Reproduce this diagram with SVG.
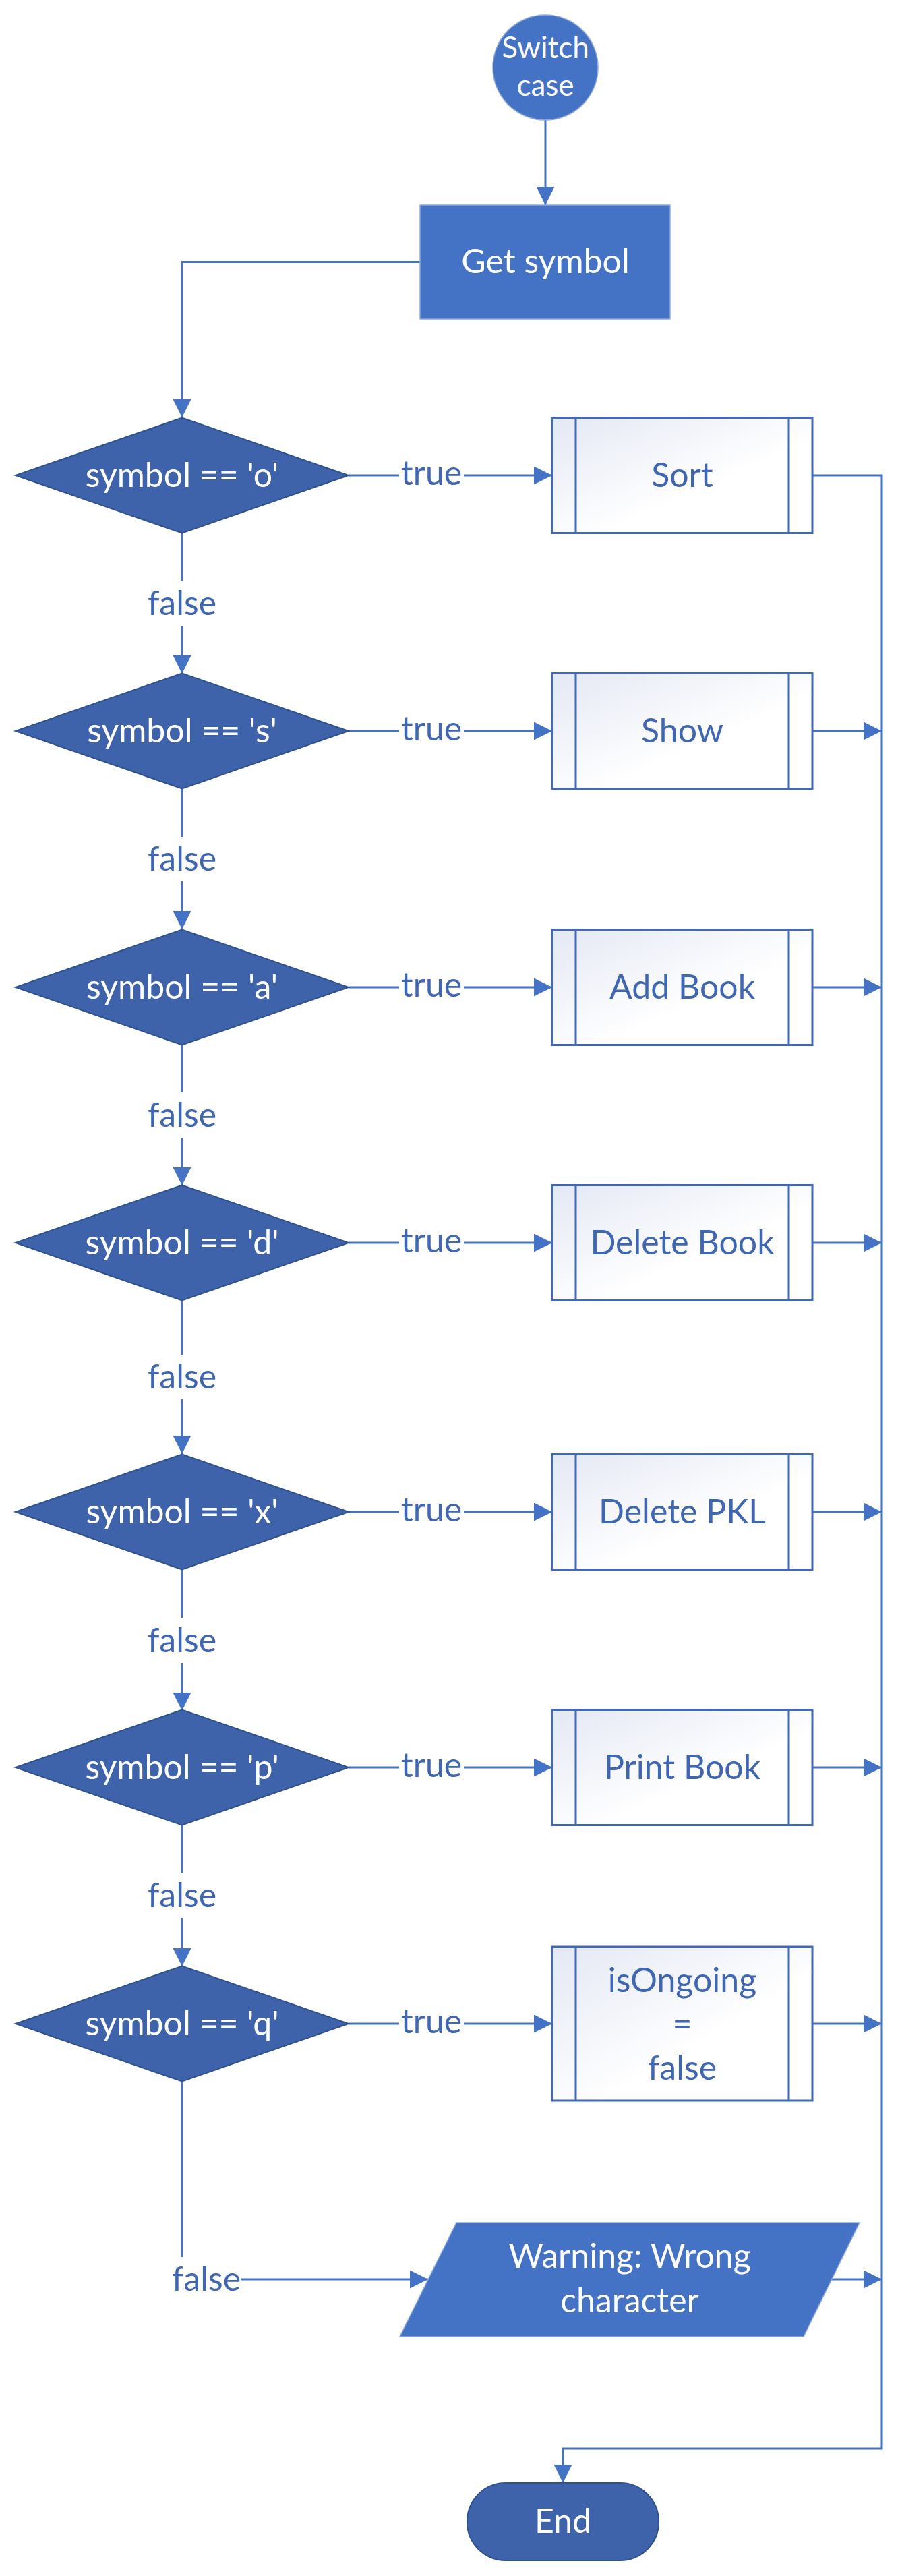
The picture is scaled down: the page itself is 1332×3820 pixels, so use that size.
<svg xmlns="http://www.w3.org/2000/svg" width="1332" height="3820" viewBox="0 0 1332 3820">
<style>
.bg{fill:#FFFFFF}
.con{fill:none;stroke:#4472C4;stroke-width:3}
.arr{fill:none;stroke:#4472C4;stroke-width:3;marker-end:url(#ah)}
.dia{fill:#3E63AB;stroke:#2F528F;stroke-width:2}
.proc{fill:url(#pg);stroke:#4169B7;stroke-width:3}
.pline{fill:none;stroke:#4169B7;stroke-width:3}
.solid{fill:#4472C4;stroke:#8EA9DB;stroke-width:1.5}
.dark{fill:#3E63AB;stroke:#2F528F;stroke-width:2}
text{font-family:Lato,"Liberation Sans",sans-serif;font-size:50px;text-anchor:middle}
.w{fill:#FFFFFF}
.b{fill:#3F66B3}
.sm{font-size:44px}
</style>
<defs>
<linearGradient id="pg" x1="0" y1="0" x2="1" y2="1">
<stop offset="0" stop-color="#E4E8F4"/>
<stop offset="0.6" stop-color="#FFFFFF"/>
<stop offset="1" stop-color="#FFFFFF"/>
</linearGradient>
<marker id="ah" markerUnits="userSpaceOnUse" markerWidth="27" markerHeight="27" refX="27" refY="13.5" orient="auto">
<path d="M0,0 L27,13.5 L0,27 Z" fill="#4472C4"/>
</marker>
</defs>
<rect class="bg" x="0" y="0" width="1332" height="3820"/>

<g id="connectors">
<path class="arr" d="M809,178 L809,304"/>
<path class="arr" d="M623,388.5 L270,388.5 L270,619"/>
<path class="con" d="M270,790 L270,861"/><path class="arr" d="M270,928 L270,999"/>
<path class="con" d="M270,1169 L270,1241"/><path class="arr" d="M270,1307 L270,1378"/>
<path class="con" d="M270,1549 L270,1620"/><path class="arr" d="M270,1687 L270,1758"/>
<path class="con" d="M270,1928 L270,2009"/><path class="arr" d="M270,2075 L270,2156"/>
<path class="con" d="M270,2327 L270,2399"/><path class="arr" d="M270,2466 L270,2537"/>
<path class="con" d="M270,2706 L270,2778"/><path class="arr" d="M270,2844 L270,2916"/>
<path class="con" d="M270,3086 L270,3347"/><path class="arr" d="M357,3380 L635,3380"/>
<path class="con" d="M517,705 L592,705"/><path class="arr" d="M688,705 L819,705"/>
<path class="con" d="M517,1084 L592,1084"/><path class="arr" d="M688,1084 L819,1084"/>
<path class="con" d="M517,1464 L592,1464"/><path class="arr" d="M688,1464 L819,1464"/>
<path class="con" d="M517,1843 L592,1843"/><path class="arr" d="M688,1843 L819,1843"/>
<path class="con" d="M517,2242 L592,2242"/><path class="arr" d="M688,2242 L819,2242"/>
<path class="con" d="M517,2621 L592,2621"/><path class="arr" d="M688,2621 L819,2621"/>
<path class="con" d="M517,3001 L592,3001"/><path class="arr" d="M688,3001 L819,3001"/>
<path class="arr" d="M1205,705 L1308,705 L1308,3631 L835,3631 L835,3682"/>
<path class="arr" d="M1205,1084 L1308,1084"/>
<path class="arr" d="M1205,1464 L1308,1464"/>
<path class="arr" d="M1205,1843 L1308,1843"/>
<path class="arr" d="M1205,2242 L1308,2242"/>
<path class="arr" d="M1205,2621 L1308,2621"/>
<path class="arr" d="M1205,3001 L1308,3001"/>
<path class="arr" d="M1233,3380 L1308,3380"/>
<text class="b" x="270" y="912">false</text>
<text class="b" x="270" y="1291">false</text>
<text class="b" x="270" y="1671">false</text>
<text class="b" x="270" y="2059">false</text>
<text class="b" x="270" y="2450">false</text>
<text class="b" x="270" y="2828">false</text>
<text class="b" x="306" y="3397">false</text>
<text class="b" x="640" y="719">true</text>
<text class="b" x="640" y="1098">true</text>
<text class="b" x="640" y="1478">true</text>
<text class="b" x="640" y="1857">true</text>
<text class="b" x="640" y="2256">true</text>
<text class="b" x="640" y="2635">true</text>
<text class="b" x="640" y="3015">true</text>
</g>

<g id="start">
<circle class="solid" cx="809" cy="100" r="78"/>
<text class="w sm" x="809" y="86">Switch</text>
<text class="w sm" x="809" y="142">case</text>
</g>
<g id="get-symbol">
<rect class="solid" x="623" y="304" width="371" height="169"/>
<text class="w" x="809" y="405">Get symbol</text>
</g>

<g id="dec-o"><polygon class="dia" points="23,705 270,619.5 517,705 270,790.5"/><text class="w" x="270" y="722">symbol == 'o'</text></g>
<g id="dec-s"><polygon class="dia" points="23,1084 270,998.5 517,1084 270,1169.5"/><text class="w" x="270" y="1101">symbol == 's'</text></g>
<g id="dec-a"><polygon class="dia" points="23,1464 270,1378.5 517,1464 270,1549.5"/><text class="w" x="270" y="1481">symbol == 'a'</text></g>
<g id="dec-d"><polygon class="dia" points="23,1843 270,1757.5 517,1843 270,1928.5"/><text class="w" x="270" y="1860">symbol == 'd'</text></g>
<g id="dec-x"><polygon class="dia" points="23,2242 270,2156.5 517,2242 270,2327.5"/><text class="w" x="270" y="2259">symbol == 'x'</text></g>
<g id="dec-p"><polygon class="dia" points="23,2621 270,2535.5 517,2621 270,2706.5"/><text class="w" x="270" y="2638">symbol == 'p'</text></g>
<g id="dec-q"><polygon class="dia" points="23,3001 270,2915.5 517,3001 270,3086.5"/><text class="w" x="270" y="3018">symbol == 'q'</text></g>

<g id="sort"><rect class="proc" x="819" y="619.5" width="386" height="171"/><path class="pline" d="M854,619.5 V790.5 M1170,619.5 V790.5"/><text class="b" x="1012" y="722">Sort</text></g>
<g id="show"><rect class="proc" x="819" y="998.5" width="386" height="171"/><path class="pline" d="M854,998.5 V1169.5 M1170,998.5 V1169.5"/><text class="b" x="1012" y="1101">Show</text></g>
<g id="add-book"><rect class="proc" x="819" y="1378.5" width="386" height="171"/><path class="pline" d="M854,1378.5 V1549.5 M1170,1378.5 V1549.5"/><text class="b" x="1012" y="1481">Add Book</text></g>
<g id="delete-book"><rect class="proc" x="819" y="1757.5" width="386" height="171"/><path class="pline" d="M854,1757.5 V1928.5 M1170,1757.5 V1928.5"/><text class="b" x="1012" y="1860">Delete Book</text></g>
<g id="delete-pkl"><rect class="proc" x="819" y="2156.5" width="386" height="171"/><path class="pline" d="M854,2156.5 V2327.5 M1170,2156.5 V2327.5"/><text class="b" x="1012" y="2259">Delete PKL</text></g>
<g id="print-book"><rect class="proc" x="819" y="2535.5" width="386" height="171"/><path class="pline" d="M854,2535.5 V2706.5 M1170,2535.5 V2706.5"/><text class="b" x="1012" y="2638">Print Book</text></g>
<g id="is-ongoing"><rect class="proc" x="819" y="2887" width="386" height="228"/><path class="pline" d="M854,2887 V3115 M1170,2887 V3115"/><text class="b" x="1012" y="2954">isOngoing</text><text class="b" x="1012" y="3019">=</text><text class="b" x="1012" y="3084">false</text></g>

<g id="warning"><polygon class="solid" points="677,3296 1275,3296 1192,3465 593,3465"/><text class="w" x="934" y="3363">Warning: Wrong</text><text class="w" x="934" y="3429">character</text></g>

<g id="end"><rect class="dark" x="693" y="3682" width="284" height="115" rx="57" ry="57"/><text class="w" x="835" y="3756">End</text></g>
</svg>
